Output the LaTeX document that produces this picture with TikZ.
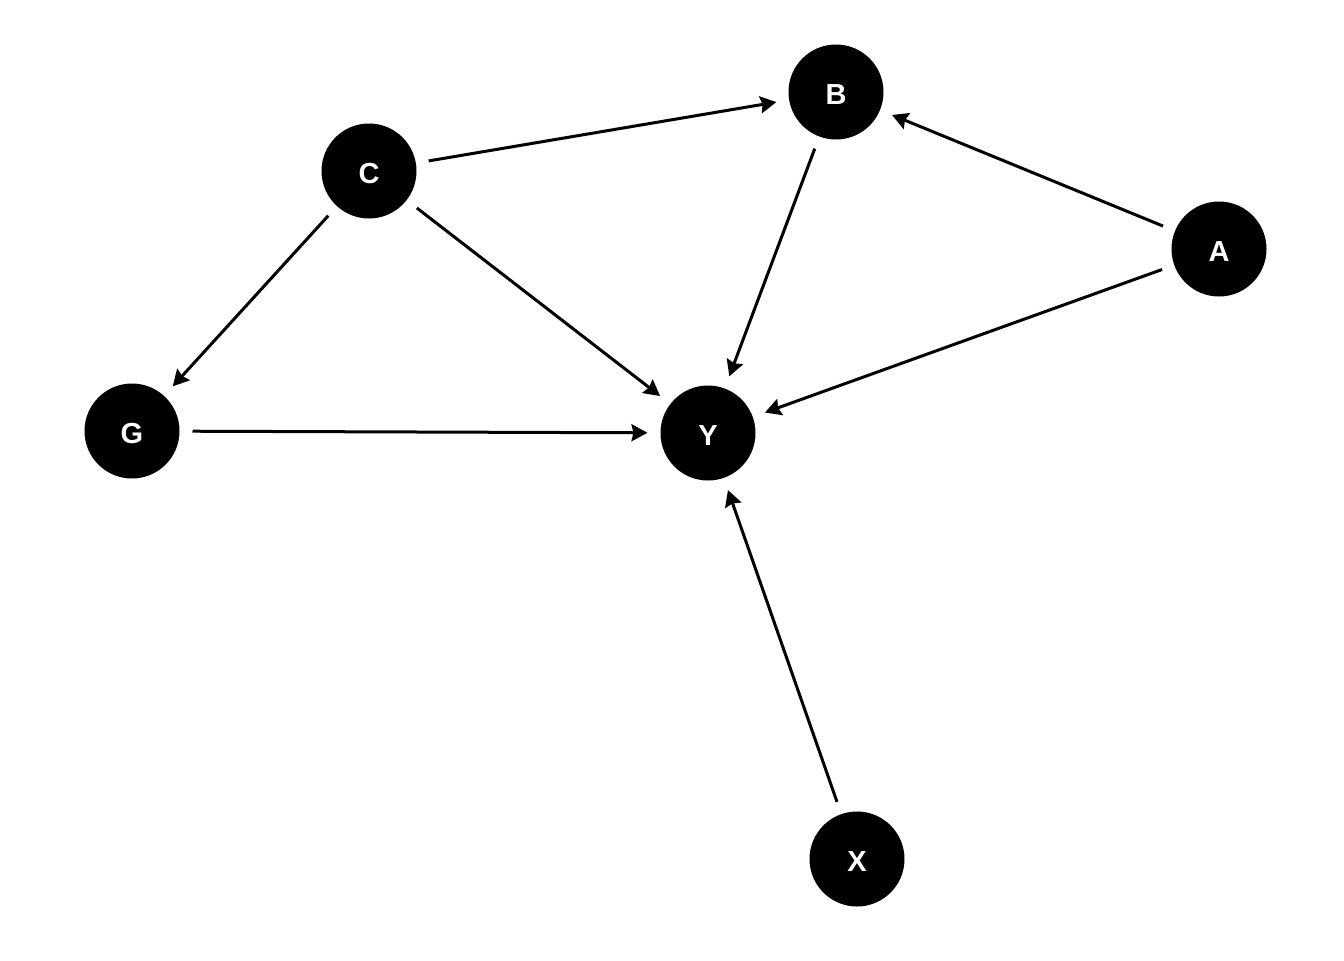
\documentclass[tikz,border=0pt]{standalone}
\usepackage{fontspec}
\setmainfont{Liberation Sans}
\usetikzlibrary{arrows.meta}
\begin{document}
\begin{tikzpicture}[x=0.5pt,y=-0.5pt,
  vnode/.style={circle,fill=black,draw=none,minimum size=47.5pt,inner sep=0pt,outer sep=6.5pt,
    text=white,text height=12.4pt,text depth=0pt,font=\fontsize{14.5}{16}\selectfont\bfseries},
  edge/.style={line width=1.5pt,-{Stealth[length=8pt,width=8.5pt,inset=1pt]}}]
\useasboundingbox (0,0) rectangle (1344,960);
\node[vnode] (B) at (836,92) {B};
\node[vnode] (C) at (369,171) {C};
\node[vnode] (A) at (1219,249) {A};
\node[vnode] (G) at (132,431) {G};
\node[vnode] (Y) at (708,433) {Y};
\node[vnode] (X) at (857,859) {X};
\draw[edge] (C) -- (B);
\draw[edge] (A) -- (B);
\draw[edge] (C) -- (G);
\draw[edge] (C) -- (Y);
\draw[edge] (B) -- (Y);
\draw[edge] (A) -- (Y);
\draw[edge] (G) -- (Y);
\draw[edge] (X) -- (Y);
\end{tikzpicture}
\end{document}
